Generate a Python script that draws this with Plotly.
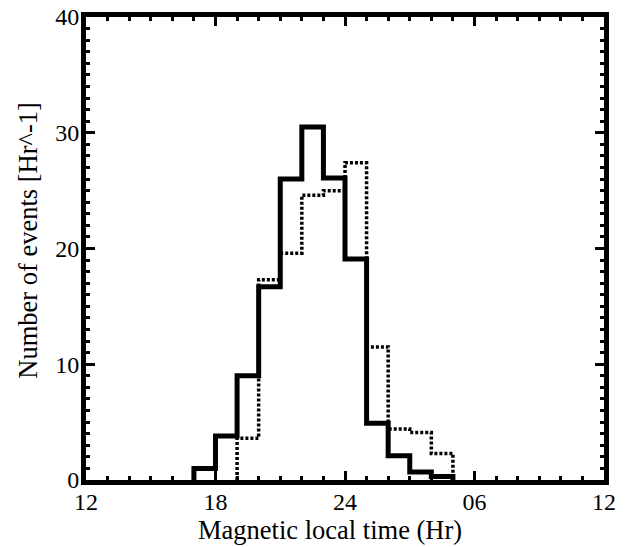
import plotly.graph_objects as go

# Bin edges (hours MLT, 24+ = after midnight) and counts per hour
solid_edges = [17, 18, 19, 20, 21, 22, 23, 24, 25, 26, 27, 28, 29]
solid_counts = [1.0, 3.8, 9.0, 16.7, 26.0, 30.5, 26.1, 19.1, 4.9, 2.1, 0.7, 0.3]

dotted_edges = [19, 20, 21, 22, 23, 24, 25, 26, 27, 28, 29]
dotted_counts = [3.6, 17.3, 19.6, 24.6, 25.0, 27.4, 11.5, 4.4, 4.1, 2.3]

tick_vals = [12, 18, 24, 30, 36]
tick_text = ["12", "18", "24", "06", "12"]
x_title = "Magnetic local time (Hr)"
y_title = "Number of events [Hr^-1]"

def steps(edges, counts):
    x = [edges[0]] + list(edges)
    y = [0] + list(counts) + [0]
    return x, y

fig = go.Figure()
xs, ys = steps(dotted_edges, dotted_counts)
fig.add_trace(go.Scatter(x=xs, y=ys, mode="lines", line_shape="hv",
                         line=dict(color="black", width=3.5, dash="3px,2px"),
                         showlegend=False, hoverinfo="skip"))
xs, ys = steps(solid_edges, solid_counts)
fig.add_trace(go.Scatter(x=xs, y=ys, mode="lines", line_shape="hv",
                         line=dict(color="black", width=5),
                         showlegend=False, hoverinfo="skip"))

tick_font = dict(family="Liberation Serif, Times New Roman, serif", size=24, color="black")
title_font = dict(family="Liberation Serif, Times New Roman, serif", size=26.5, color="black")
fig.update_layout(
    width=617, height=539,
    margin=dict(l=78, r=21, t=9, b=67),
    paper_bgcolor="white", plot_bgcolor="white",
    font=tick_font,
    xaxis=dict(range=[12, 36], tickvals=tick_vals, ticktext=tick_text, automargin=False,
               ticks="inside", ticklen=9, tickwidth=3, tickcolor="black",
               showline=True, linewidth=5, linecolor="black", mirror="allticks",
               showgrid=False, zeroline=False, tickfont=tick_font, ticklabelstandoff=-4,
               ticklabeloverflow="allow",
               minor=dict(dtick=1, ticks="inside", ticklen=4, tickwidth=3, tickcolor="black", showgrid=False)),
    yaxis=dict(range=[0, 40], tickvals=[0, 10, 20, 30, 40], automargin=False,
               ticks="inside", ticklen=9, tickwidth=3, tickcolor="black",
               showline=True, linewidth=5, linecolor="black", mirror="allticks",
               showgrid=False, zeroline=False, tickfont=tick_font, ticklabelstandoff=-3,
               ticklabeloverflow="allow",
               minor=dict(dtick=1, ticks="inside", ticklen=4, tickwidth=3, tickcolor="black", showgrid=False)),
    annotations=[
        dict(text=x_title, xref="paper", yref="paper", x=0.472, y=-0.108,
             xanchor="center", yanchor="middle", showarrow=False, font=title_font),
        dict(text=y_title, xref="paper", yref="paper", x=-0.112, y=0.519, textangle=-90,
             xanchor="center", yanchor="middle", showarrow=False, font=title_font),
    ],
)
fig.write_html("out.html")
